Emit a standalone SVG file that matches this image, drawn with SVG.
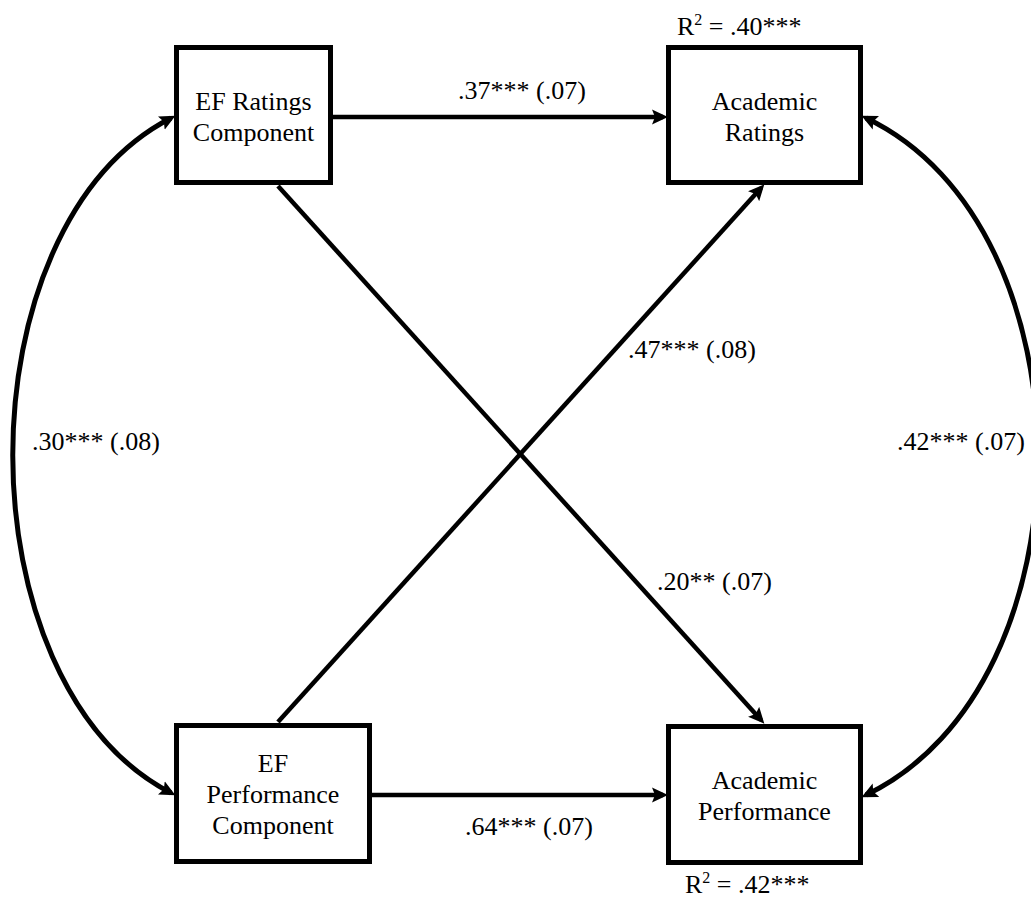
<svg xmlns="http://www.w3.org/2000/svg" width="1031" height="898" viewBox="0 0 1031 898" font-family="'Liberation Serif', 'DejaVu Serif', serif">
  <style>
    text { font-family: 'Liberation Serif', 'DejaVu Serif', serif; font-size: 26px; fill: #000; }
    .box { fill: #fff; stroke: #000; stroke-width: 5; }
    .c { fill: none; stroke: #000; stroke-width: 4.5; }
    .cv { fill: none; stroke: #000; stroke-width: 5; }
    .mid { text-anchor: middle; }
  </style>
  <defs>
    <marker id="ah" viewBox="0 0 16 16" refX="11" refY="8" markerWidth="16" markerHeight="16" markerUnits="userSpaceOnUse" orient="auto-start-reverse">
      <path d="M0,0.5 L16,8 L0,15.5 L3,8 Z" fill="#000"/>
    </marker>
  </defs>
  <rect width="1031" height="898" fill="#fff"/>
  <g id="connectors">
    <line class="c" x1="333" y1="117" x2="663" y2="117" marker-end="url(#ah)"/>
    <line class="c" x1="372" y1="795" x2="663" y2="795" marker-end="url(#ah)"/>
    <line class="c" x1="278" y1="186" x2="761" y2="720" marker-end="url(#ah)"/>
    <line class="c" x1="278" y1="722" x2="761" y2="188" marker-end="url(#ah)"/>
    <path class="cv" d="M171,118 C -40,227 -40,683 171,793" marker-start="url(#ah)" marker-end="url(#ah)"/>
    <path class="cv" d="M866,118 C 1095,227 1095,685 866,795" marker-start="url(#ah)" marker-end="url(#ah)"/>
    <text x="458" y="99">.37*** (.07)</text>
    <text x="465" y="835">.64*** (.07)</text>
    <text x="628" y="358">.47*** (.08)</text>
    <text x="657" y="590">.20** (.07)</text>
    <text x="32" y="450">.30*** (.08)</text>
    <text x="897" y="450">.42*** (.07)</text>
  </g>
  <g id="ef-ratings">
    <rect class="box" x="176.5" y="47.5" width="154" height="135"/>
    <text class="mid" x="253.5" y="110">EF Ratings</text>
    <text class="mid" x="253.5" y="141">Component</text>
  </g>
  <g id="academic-ratings">
    <rect class="box" x="668.5" y="47.5" width="192" height="135"/>
    <text class="mid" x="764.5" y="110">Academic</text>
    <text class="mid" x="764.5" y="141">Ratings</text>
    <text x="677" y="35">R<tspan dy="-10" font-size="16">2</tspan><tspan dy="10"> = .40***</tspan></text>
  </g>
  <g id="ef-performance">
    <rect class="box" x="176.5" y="725.5" width="193" height="136"/>
    <text class="mid" x="273" y="772">EF</text>
    <text class="mid" x="273" y="803">Performance</text>
    <text class="mid" x="273" y="834">Component</text>
  </g>
  <g id="academic-performance">
    <rect class="box" x="668.5" y="726.5" width="192" height="136"/>
    <text class="mid" x="764.5" y="789">Academic</text>
    <text class="mid" x="764.5" y="820">Performance</text>
    <text x="685" y="893">R<tspan dy="-10" font-size="16">2</tspan><tspan dy="10"> = .42***</tspan></text>
  </g>
</svg>
